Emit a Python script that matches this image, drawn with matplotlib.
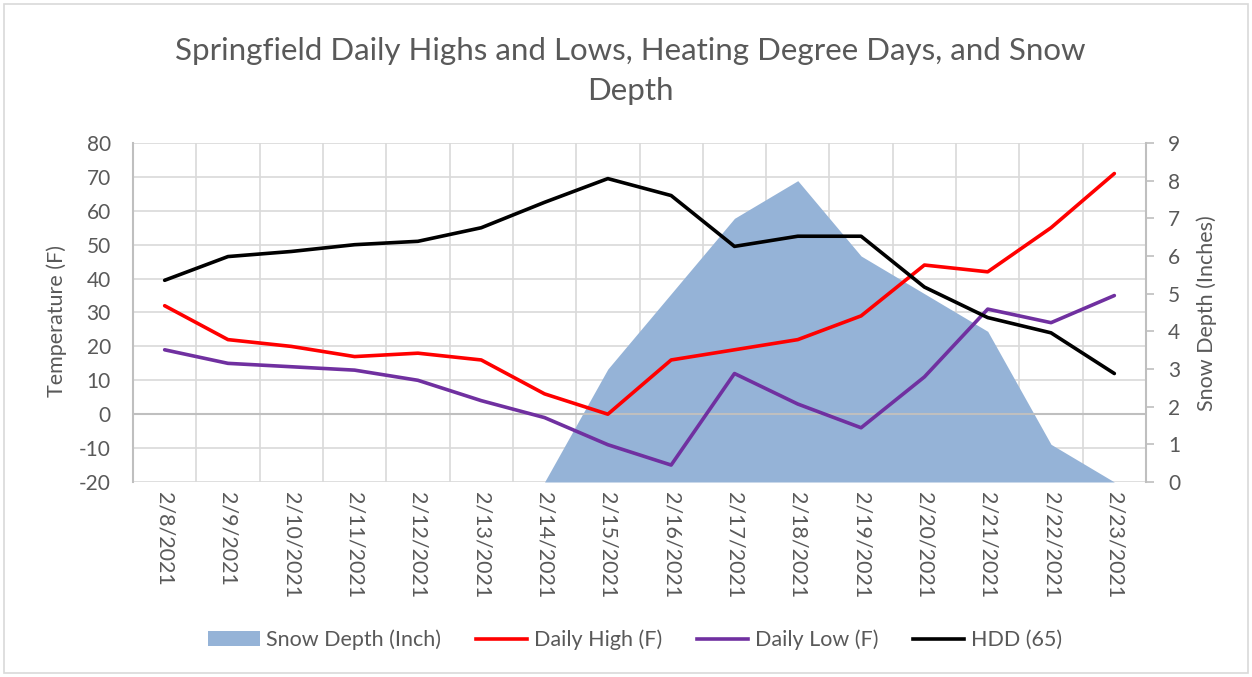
import matplotlib
matplotlib.use("Agg")
import matplotlib.pyplot as plt
from matplotlib.patches import Patch, Rectangle
from matplotlib.lines import Line2D
import numpy as np

dates = ["2/8/2021", "2/9/2021", "2/10/2021", "2/11/2021", "2/12/2021", "2/13/2021",
         "2/14/2021", "2/15/2021", "2/16/2021", "2/17/2021", "2/18/2021", "2/19/2021",
         "2/20/2021", "2/21/2021", "2/22/2021", "2/23/2021"]
daily_high = [32, 22, 20, 17, 18, 16, 6, 0, 16, 19, 22, 29, 44, 42, 55, 71]
daily_low = [19, 15, 14, 13, 10, 4, -1, -9, -15, 12, 3, -4, 11, 31, 27, 35]
hdd = [39.5, 46.5, 48, 50, 51, 55, 62.5, 69.5, 64.5, 49.5, 52.5, 52.5, 37.5, 28.5, 24, 12]
snow_depth = [0, 0, 0, 0, 0, 0, 0, 3, 5, 7, 8, 6, 5, 4, 1, 0]

temp_ticks = list(range(-20, 81, 10))
snow_ticks = list(range(0, 10))

plt.rcParams['font.family'] = ['Lato', 'DejaVu Sans']
plt.rcParams['axes.unicode_minus'] = False
TXT = '#595959'
GRID = '#D9D9D9'
AXC = '#BFBFBF'

W, H = 1252, 677
fig = plt.figure(figsize=(W / 100, H / 100), dpi=100)
L, R, T, B = 133, 1146, 143, 482
rect = [L / W, 1 - B / H, (R - L) / W, (B - T) / H]

ax = fig.add_axes(rect)          # grid + left axis
ax2 = ax.twinx()                 # snow area (right axis)
ax3 = fig.add_axes(rect, sharex=ax, sharey=ax)  # lines on top
ax.set_zorder(1)
ax2.set_zorder(2)
ax3.set_zorder(3)
for a in (ax2, ax3):
    a.patch.set_visible(False)
ax3.axis('off')

x = np.arange(len(dates))

# base axis
ax.set_xlim(-0.5, len(dates) - 0.5)
ax.set_ylim(temp_ticks[0], temp_ticks[-1])
ax.set_yticks(temp_ticks)
ax.set_xticks(x)
ax.set_xticklabels(dates, rotation=-90, fontsize=15.5, color=TXT)
ax.set_xticks(x[:-1] + 0.5, minor=True)
ax.tick_params(axis='x', which='both', length=0, pad=7)
ax.tick_params(axis='y', length=0, labelsize=15, labelcolor=TXT, pad=16)
ax.grid(axis='y', which='major', color=GRID, lw=1.2)
ax.grid(axis='x', which='minor', color=GRID, lw=1.2)
ax.grid(axis='x', which='major', visible=False)
ax.set_axisbelow(True)
for s in ['top', 'bottom', 'right']:
    ax.spines[s].set_visible(False)
ax.spines['left'].set_color(AXC)
ax.spines['left'].set_linewidth(1.5)

# snow area
ax2.fill_between(x, 0, snow_depth, color='#95B3D7', lw=0)
ax2.set_ylim(snow_ticks[0], snow_ticks[-1])
ax2.set_yticks(snow_ticks)
ax2.tick_params(axis='y', direction='out', length=6, width=1.2, color=AXC,
                labelsize=15, labelcolor=TXT, pad=10)
for s in ['top', 'bottom', 'left']:
    ax2.spines[s].set_visible(False)
ax2.spines['right'].set_color(AXC)
ax2.spines['right'].set_linewidth(1.5)

# lines
ax3.axhline(0, color=AXC, lw=1.5, zorder=1)
ax3.plot(x, daily_high, color='#FF0000', lw=2.6, zorder=3, solid_capstyle='round')
ax3.plot(x, daily_low, color='#7030A0', lw=2.6, zorder=3, solid_capstyle='round')
ax3.plot(x, hdd, color='#000000', lw=2.6, zorder=3, solid_capstyle='round')

# labels
fig.text(57 / W, 1 - 321 / H, "Temperature (F)", rotation=90, ha='center', va='center',
         fontsize=15.5, color=TXT)
fig.text(1207 / W, 1 - 313 / H, "Snow Depth (Inches)", rotation=90, ha='center', va='center',
         fontsize=15.5, color=TXT)
fig.text(630 / W, 1 - 71 / H,
         "Springfield Daily Highs and Lows, Heating Degree Days, and Snow\nDepth",
         ha='center', va='center', fontsize=22.5, color=TXT, linespacing=1.5)

handles = [Patch(facecolor='#95B3D7', edgecolor='none', label='Snow Depth (Inch)'),
           Line2D([], [], color='#FF0000', lw=2.6, label='Daily High (F)'),
           Line2D([], [], color='#7030A0', lw=2.6, label='Daily Low (F)'),
           Line2D([], [], color='#000000', lw=2.6, label='HDD (65)')]
leg = fig.legend(handles=handles, loc='center', bbox_to_anchor=(635 / W, 1 - 640 / H),
                 ncol=4, frameon=False, fontsize=15.5, handlelength=2.4,
                 handletextpad=0.3, columnspacing=1.6)
for t in leg.get_texts():
    t.set_color(TXT)

fig.patches.append(Rectangle((4 / W, 4 / H), 1 - 8 / W, 1 - 8 / H, transform=fig.transFigure,
                             fill=False, edgecolor=GRID, lw=1.2))

fig.savefig("out.png", dpi=100)
